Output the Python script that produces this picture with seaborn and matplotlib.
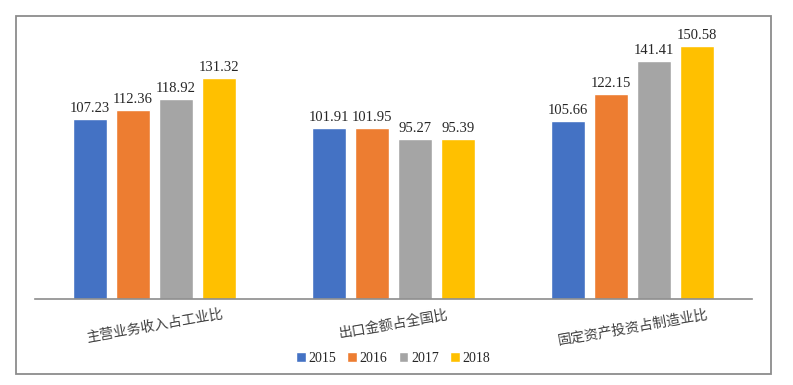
import pandas as pd
import matplotlib.pyplot as plt
import seaborn as sns
from matplotlib.patches import Rectangle

# chart data
categories = ['主营业务收入占工业比', '出口金额占全国比', '固定资产投资占制造业比']
years = ['2015', '2016', '2017', '2018']
v2015 = [107.23, 101.91, 105.66]
v2016 = [112.36, 101.95, 122.15]
v2017 = [118.92, 95.27, 141.41]
v2018 = [131.32, 95.39, 150.58]
colors = ['#4472C4', '#ED7D31', '#A5A5A5', '#FFC000']

rows = []
for yr, vals in zip(years, [v2015, v2016, v2017, v2018]):
    for cat, v in zip(categories, vals):
        rows.append({'category': cat, 'year': yr, 'value': v})
df = pd.DataFrame(rows)

sns.set_style('white')
plt.rcParams['font.family'] = ['Noto Sans CJK SC', 'DejaVu Sans']

fig = plt.figure(figsize=(7.93, 3.85), dpi=100)
ax = fig.add_axes([35 / 793, 86 / 385, 717 / 793, 268.8 / 385])

sns.barplot(data=df, x='category', y='value', hue='year', order=categories,
            hue_order=years, palette=colors, width=0.72, gap=0.23,
            saturation=1, ax=ax, legend=True)

for c in ax.containers:
    ax.bar_label(c, fmt='%.2f', padding=3, fontsize=10.5,
                 family='Liberation Serif', color='#262626')

ax.set_ylim(0, 160)
ax.set_xlim(-0.5, 2.5)
ax.set_xlabel('')
ax.set_ylabel('')
ax.set_yticks([])
for s in ['top', 'right', 'left']:
    ax.spines[s].set_visible(False)
ax.spines['bottom'].set_color('#8c8c8c')
ax.spines['bottom'].set_linewidth(1.2)
ax.tick_params(axis='x', length=0, pad=6)
ax.set_xticks(range(len(categories)))
ax.set_xticklabels(categories, rotation=10, ha='center', fontsize=10,
                   color='#404040')

handles, labels = ax.get_legend_handles_labels()
ax.get_legend().remove()
fig.legend(handles, labels, loc='center', bbox_to_anchor=(393 / 793, 1 - 358 / 385),
           ncol=4, frameon=False, handlelength=0.7, handleheight=0.7,
           handletextpad=0.2, columnspacing=0.8,
           prop={'family': 'Liberation Serif', 'size': 10})

# outer frame
fig.patches.append(Rectangle((16 / 793, 11 / 385), 755 / 793, 358 / 385,
                             transform=fig.transFigure, fill=False,
                             edgecolor='#8c8c8c', linewidth=1.3))

fig.savefig('out.png', dpi=100)
